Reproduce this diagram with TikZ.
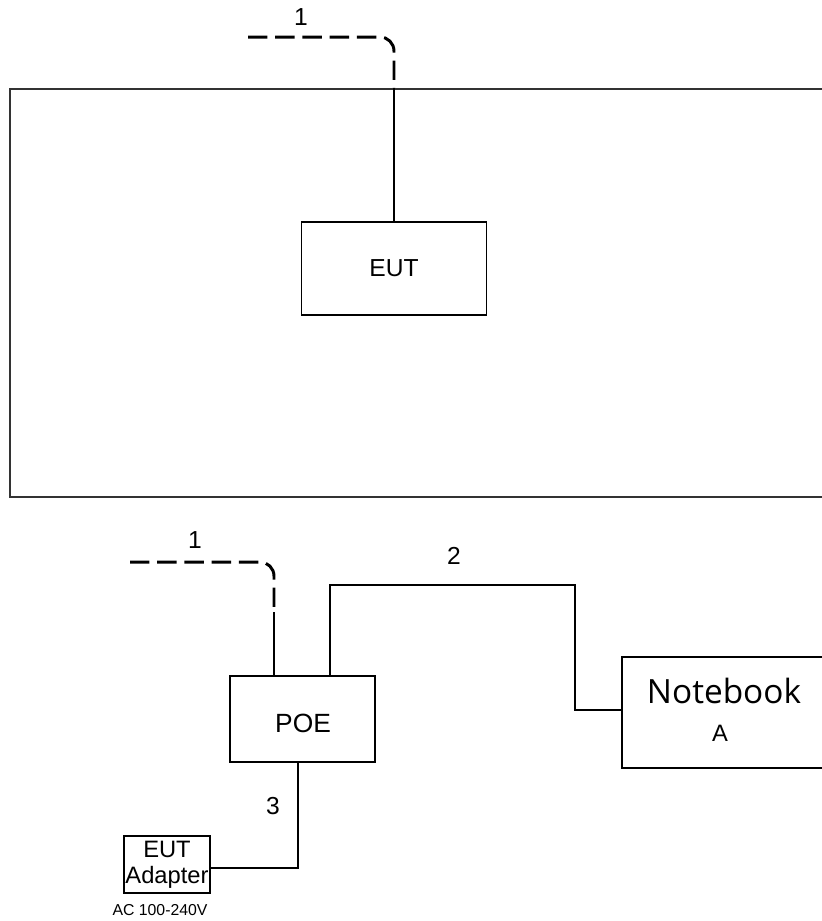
\documentclass[tikz,border=0pt]{standalone}
\usepackage{fontspec}
\setmainfont{Liberation Sans}
\newfontfamily\nbfont{Open Sans}
\usetikzlibrary{positioning}

\begin{document}
\begin{tikzpicture}[
  x=0.02cm, y=-0.02cm,
  box/.style={draw, line width=1.1pt, rectangle, inner sep=0pt, font=\fontsize{14}{16}\selectfont},
  wire/.style={line width=0.8pt},
  cable/.style={line width=1.7pt, dash pattern=on 11pt off 4.5pt, rounded corners=8pt},
  lbl/.style={inner sep=0pt, font=\fontsize{14}{16}\selectfont}
]
\useasboundingbox (0,0) rectangle (822,921);
\clip (0,0) rectangle (822,921);

% ---------- Room with EUT ----------
\begin{scope}
  \node[draw, line width=1.3pt, black!80, minimum width=820*0.02cm, minimum height=408*0.02cm, inner sep=0pt] (room) at (420,293) {};
  \node[box, minimum width=185*0.02cm, minimum height=93*0.02cm] (eut) at (394,268.5) {EUT};
  \coordinate (c1a) at (248,37);
  \node[lbl] (n1a) at (301,17) {1};

  \draw[cable] (c1a) -| (eut.north |- room.north);
  \draw[wire] (eut.north |- room.north) -- (eut.north);
\end{scope}

% ---------- POE, Notebook and adapter ----------
\begin{scope}
  \node[box, minimum width=145*0.02cm, minimum height=86*0.02cm] (poe) at (302.5,719) {};
  \node[lbl, font=\fontsize{15}{17}\selectfont] (poename) at (303,723) {POE};
  \node[box, minimum width=204*0.02cm, minimum height=111*0.02cm] (nb) at (724,712.5) {};
  \node[inner sep=0pt, font=\nbfont\fontsize{19}{22}\selectfont] (nbname) at (724,691) {Notebook};
  \node[lbl, font=\fontsize{13.5}{16}\selectfont] (nba) at (720,733) {A};
  \node[box, line width=0.9pt, minimum width=86*0.02cm, minimum height=57*0.02cm, align=center, font=\fontsize{13.5}{15}\selectfont] (adp) at (167,864.5) {EUT\\Adapter};
  \node[lbl, font=\fontsize{9}{11}\selectfont] (ac) at (160,910) {AC 100-240V};

  \coordinate (c1b) at (130,562);
  \coordinate (c1bend) at (274,612);
  \coordinate (t2) at (330,585);
  \coordinate (k2) at (575,585);
  \coordinate (k2b) at (575,710);
  \coordinate (t3) at (298,868);

  \node[lbl] (n1b) at (195,540) {1};
  \node[lbl] (n2) at (454,556) {2};
  \node[lbl] (n3) at (273,806) {3};

  \draw[cable] (c1b) -| (c1bend);
  \draw[wire] (c1bend) -- (c1bend |- poe.north);
  \draw[wire] (poe.north -| t2) -- (t2) -- (k2) -- (k2b) -- (k2b -| nb.west);
  \draw[wire] (poe.south -| t3) -- (t3) -- (t3 -| adp.east);
\end{scope}

\end{tikzpicture}
\end{document}
